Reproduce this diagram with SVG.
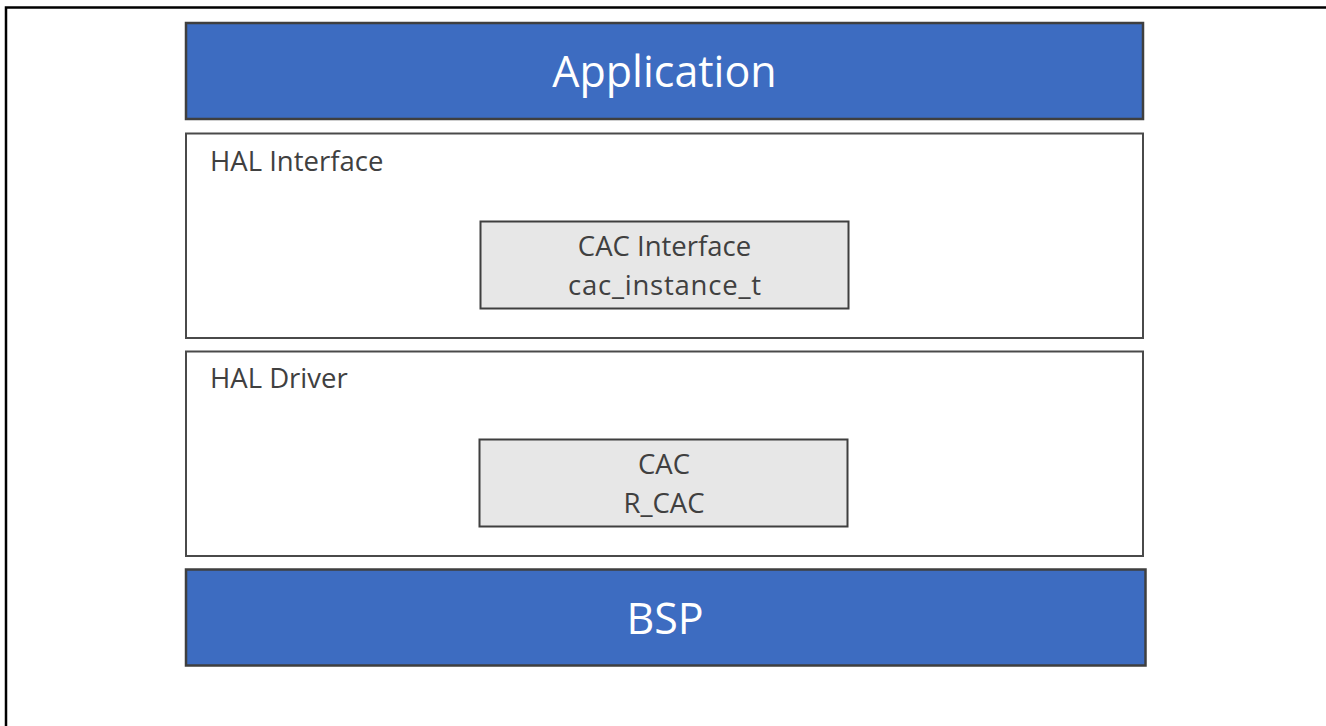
<svg xmlns="http://www.w3.org/2000/svg" width="1326" height="726" viewBox="0 0 1326 726">
<style>
.blue{fill:#3D6CC1;stroke:#3F3F3F;stroke-width:2.5}
.layer{fill:#FFFFFF;stroke:#4A4A4A;stroke-width:2}
.inner{fill:#E7E7E7;stroke:#3F3F3F;stroke-width:2}
.big{font-family:"Open Sans","Noto Sans",sans-serif;font-size:43px;fill:#FFFFFF;text-anchor:middle}
.lbl{font-family:"Open Sans","Noto Sans",sans-serif;font-size:27.5px;fill:#404040}
.mid{text-anchor:middle}
</style>
<rect x="6" y="7.5" width="1330" height="730" fill="none" stroke="#000000" stroke-width="2.5"/>
<g id="application">
<rect class="blue" x="186" y="23" width="957" height="96"/>
<text class="big" x="664.5" y="87">Application</text>
</g>
<g id="hal-interface">
<rect class="layer" x="186" y="133.5" width="957" height="204.5"/>
<text class="lbl" x="210" y="171">HAL Interface</text>
</g>
<g id="cac-interface">
<rect class="inner" x="480.5" y="221.5" width="368" height="87"/>
<text class="lbl mid" x="664.5" y="256">CAC Interface</text>
<text class="lbl mid" x="664.5" y="295" textLength="193" lengthAdjust="spacing">cac_instance_t</text>
</g>
<g id="hal-driver">
<rect class="layer" x="186" y="351.5" width="957" height="204.5"/>
<text class="lbl" x="210" y="388">HAL Driver</text>
</g>
<g id="cac">
<rect class="inner" x="479.5" y="439.5" width="368" height="87"/>
<text class="lbl mid" x="664" y="474">CAC</text>
<text class="lbl mid" x="664" y="513">R_CAC</text>
</g>
<g id="bsp">
<rect class="blue" x="186" y="569.5" width="959.5" height="96"/>
<text class="big" x="665" y="634">BSP</text>
</g>
<g id="connectors"/>
</svg>
